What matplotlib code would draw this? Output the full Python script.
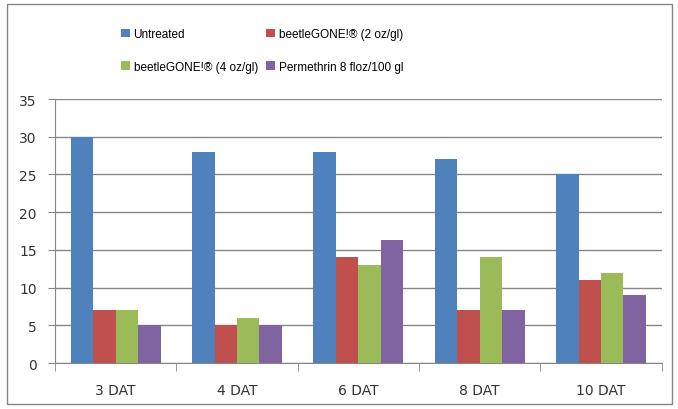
import numpy as np
import matplotlib.pyplot as plt
from matplotlib.patches import Rectangle

days = ['3 DAT', '4 DAT', '6 DAT', '8 DAT', '10 DAT']
untreated = [30, 28, 28, 27, 25]
gone_2oz = [7, 5, 14, 7, 11]
gone_4oz = [7, 6, 13, 14, 12]
permethrin = [5, 5, 16.3, 7, 9]

names = ['Untreated', 'beetleGONE!\u00ae (2 oz/gl)',
         'beetleGONE!\u00ae (4 oz/gl)', 'Permethrin 8 floz/100 gl']
colors = ['#4F81BD', '#C0504D', '#9BBB59', '#8064A2']
series = [untreated, gone_2oz, gone_4oz, permethrin]

fig = plt.figure(figsize=(6.78, 4.10), dpi=100)
ax = fig.add_axes([0.081, 0.112, 0.895, 0.644])

x = np.arange(len(days))
w = 0.185
bars = []
for i, (vals, c, n) in enumerate(zip(series, colors, names)):
    bars.append(ax.bar(x + (i - 1.5) * w, vals, w, color=c, label=n, zorder=3))

ax.set_xlim(-0.5, len(days) - 0.5)
ax.set_ylim(0, 35)
ax.set_yticks(range(0, 36, 5))
ax.yaxis.grid(True, color='#868686', linewidth=1, zorder=0)
for s in ['top', 'right']:
    ax.spines[s].set_visible(False)
for s in ['left', 'bottom']:
    ax.spines[s].set_color('#868686')
ax.set_xticks(x)
ax.set_xticklabels(days)
ax.set_xticks(np.arange(-0.5, len(days)), minor=True)
ax.tick_params(axis='x', which='major', length=0, pad=14, labelsize=10, colors='#333333')
ax.tick_params(axis='x', which='minor', length=6, color='#868686')
ax.tick_params(axis='y', length=5, color='#868686', labelsize=10, labelcolor='#333333', pad=8)

# row-wise legend order: matplotlib fills columns first
order = [0, 2, 1, 3]
fig.legend([bars[i] for i in order], [names[i] for i in order],
           loc='upper left', bbox_to_anchor=(0.163, 0.955), ncol=2, frameon=False,
           handlelength=0.75, handleheight=0.75, handletextpad=0.3,
           columnspacing=0.7, labelspacing=1.75,
           prop={'family': 'Liberation Sans', 'size': 8.5})

fig.patches.append(Rectangle((0.011, 0.012), 0.98, 0.975, transform=fig.transFigure,
                             fill=False, edgecolor='#868686', linewidth=1))

fig.savefig('out.png', dpi=100)
